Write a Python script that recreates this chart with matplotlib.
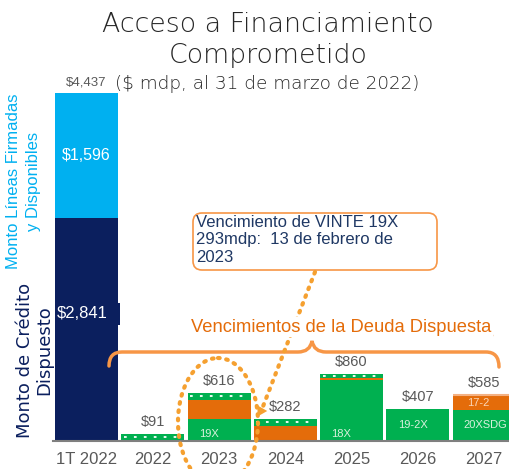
import numpy as np
import matplotlib.pyplot as plt
from matplotlib.patches import Ellipse, FancyBboxPatch, Rectangle
from matplotlib.path import Path
from matplotlib.patches import PathPatch

# data
categories = ["1T 2022", "2022", "2023", "2024", "2025", "2026", "2027"]
dispuesto = 2841
disponibles = 1596
total_1t = 4437

# maturity bars (2022..2027): bank credit (green), bonds (orange), short term (green dotted)
green_part = [0, 280, 0, 778, 407, 392]
orange_part = [10, 246, 191, 25, 0, 193]
dotted_part = [81, 90, 91, 57, 0, 0]
totals = [91, 616, 282, 860, 407, 585]

inner_labels = ["", "19X", "", "18X", "19-2X", "20XSDG"]
inner_y = [0, 90, 0, 90, 200, 200]

NAVY = "#0B1F5E"
LBLUE = "#00B0F0"
GREEN = "#00B050"
ORANGE = "#E46C0A"
LORANGE = "#F79646"
GRAY = "#595959"

plt.rcParams["font.family"] = ["Liberation Sans", "DejaVu Sans"]

fig = plt.figure(figsize=(5.10, 4.69), dpi=100)
W, H = 510, 469

# main axes: baseline y=441, top of 1T bar y=93, x from 53 to 510
ax = fig.add_axes([53 / W, (H - 441) / H, (510 - 53) / W, (441 - 93) / H])
ax.set_xlim(-0.505, 6.39)
ax.set_ylim(0, total_1t)

bw = 0.95
ax.bar(0, dispuesto, width=bw, color=NAVY)
ax.bar(0, disponibles, bottom=dispuesto, width=bw, color=LBLUE)

x = np.arange(1, 7)
g = np.array(green_part)
o = np.array(orange_part)
d = np.array(dotted_part)
ax.bar(x, g, width=bw, color=GREEN)
ax.bar(x, o, bottom=g, width=bw, color=ORANGE)
ax.bar(x, d, bottom=g + o, width=bw, color=GREEN)
for xi, base, h in zip(x, g + o, d):
    if h > 0:
        ax.hlines(base + h / 2, xi - bw / 2 + 0.04, xi + bw / 2 - 0.04, colors="white",
                  linestyles=(0, (1.5, 4)), lw=1.3)
# light top border on 2027
ax.hlines(totals[-1], x[-1] - bw / 2, x[-1] + bw / 2, colors="#F4B183", lw=1.5)

# value labels
ax.text(0, total_1t + 60, "$4,437", ha="center", va="bottom", fontsize=9.5, color=GRAY, clip_on=False)
ax.text(0, dispuesto + disponibles / 2, "$1,596", ha="center", va="center", fontsize=11.5, color="white")
for xi, t in zip(x, totals):
    ax.text(xi, t + 60, f"${t:,}", ha="center", va="bottom", fontsize=10.5, color=GRAY)
for xi, lab, yy in zip(x, inner_labels, inner_y):
    if lab:
        ax.text(xi - bw / 2 + 0.17, yy, lab, ha="left", va="center", fontsize=8, color="#D8F0DC")
ax.text(x[-1] - bw / 2 + 0.22, g[-1] + o[-1] / 2, "17-2", ha="left", va="center",
        fontsize=8, color="#FBD5B5")

ax.set_xticks(range(7))
ax.set_xticklabels(categories, fontsize=12, color=GRAY)
ax.tick_params(axis="x", length=0, pad=8)
ax.set_yticks([])
for s in ["top", "right", "left"]:
    ax.spines[s].set_visible(False)
ax.spines["bottom"].set_color("#7F7F7F")
ax.spines["bottom"].set_linewidth(1.5)

# overlay in pixel coordinates
ov = fig.add_axes([0, 0, 1, 1], facecolor="none")
ov.set_xlim(0, W)
ov.set_ylim(H, 0)
ov.axis("off")

# label box for $2,841 sticking out of the bar
ov.add_patch(Rectangle((55, 303), 65, 22, fc=NAVY, ec="none"))
ov.text(57, 314, "$2,841", ha="left", va="center", fontsize=12, color="white")

ov.text(268, 25, "Acceso a Financiamiento", ha="center", va="center", fontsize=19.3,
        family="DejaVu Sans", fontweight="light", color="#262626")
ov.text(268, 56, "Comprometido", ha="center", va="center", fontsize=19.3,
        family="DejaVu Sans", fontweight="light", color="#262626")
ov.text(267, 84, "($ mdp, al 31 de marzo de 2022)", ha="center", va="center", fontsize=13.2,
        family="DejaVu Sans", fontweight="light", color="#262626")

ov.text(14, 181, "Monto Líneas Firmadas", rotation=90, ha="center", va="center",
        fontsize=12, color=LBLUE)
ov.text(34, 181, "y Disponibles", rotation=90, ha="center", va="center",
        fontsize=12, color=LBLUE)
ov.text(25, 360, "Monto de Crédito", rotation=90, ha="center", va="center",
        fontsize=13, family="DejaVu Sans", color=NAVY)
ov.text(44, 350, "Dispuesto", rotation=90, ha="center", va="center",
        fontsize=13, family="DejaVu Sans", color=NAVY)

# curly brace
verts = [(109, 366), (109, 352), (122, 352),
         (298, 352), (310, 352), (312, 341),
         (314, 352), (326, 352),
         (486, 352), (499, 352), (499, 367)]
codes = [Path.MOVETO, Path.CURVE3, Path.CURVE3,
         Path.LINETO, Path.CURVE3, Path.CURVE3,
         Path.CURVE3, Path.CURVE3,
         Path.LINETO, Path.CURVE3, Path.CURVE3]
ov.add_patch(PathPatch(Path(verts, codes), fill=False, ec=LORANGE, lw=2.5, capstyle="round"))

# dotted ellipse around 2023
ov.add_patch(Ellipse((218, 422), 80, 128, fill=False, ec="#F5A030", lw=3,
                     ls=(0, (0.4, 1.6)), capstyle="round"))

# dotted pointer from box to 2024
ov.plot([315, 262], [272, 409], color="#F5A030", lw=3, ls=(0, (0.4, 1.6)),
        solid_capstyle="round", dash_capstyle="round")
ov.annotate("", xy=(270, 411), xytext=(258, 411),
            arrowprops=dict(arrowstyle="-|>,head_length=0.7,head_width=0.4",
                            color="#F5A030", lw=0))

# subtitle for maturities
ov.text(191, 327, "Vencimientos de la Deuda Dispuesta", ha="left", va="center",
        fontsize=13.2, color=ORANGE, bbox=dict(boxstyle="square,pad=0.1", fc="white", ec="none"))
ov.plot([190, 492], [335, 335], color=ORANGE, lw=1)

# callout box
ov.add_patch(FancyBboxPatch((193, 213), 244, 57, boxstyle="round,pad=0,rounding_size=9",
                            fc="white", ec=LORANGE, lw=1.2))
ov.text(196, 215, "Vencimiento de VINTE 19X\n293mdp:  13 de febrero de\n2023", ha="left",
        va="top", fontsize=12, color="#1F3864", linespacing=1.2)

fig.savefig("out.png", dpi=100)
